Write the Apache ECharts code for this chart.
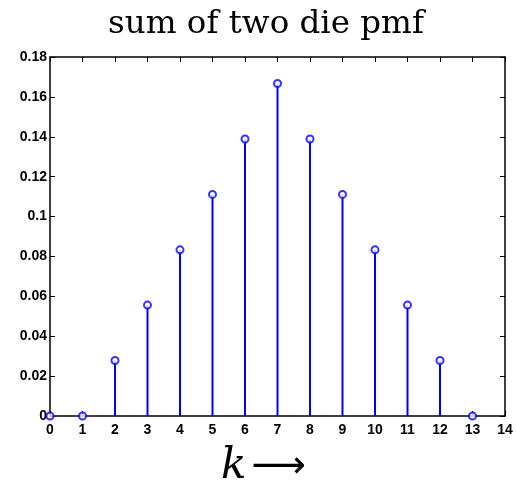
<!DOCTYPE html>
<html>
<head>
<meta charset="utf-8">
<script src="https://cdn.jsdelivr.net/npm/echarts@6/dist/echarts.min.js"></script>
<style>
  html, body { margin: 0; padding: 0; background: #fff; }
  #chart { width: 516px; height: 487px; }
</style>
</head>
<body>
<div id="chart"></div>
<script>
// k values and pmf of the sum of two dice
const kValues = [0, 1, 2, 3, 4, 5, 6, 7, 8, 9, 10, 11, 12, 13];
const pmf = [0, 0, 0.0278, 0.0556, 0.0833, 0.1111, 0.1389, 0.1667, 0.1389, 0.1111, 0.0833, 0.0556, 0.0278, 0];

const chart = echarts.init(document.getElementById("chart"));

const points = kValues.map((k, i) => [k, pmf[i]]);
const tickFont = { color: "#000", fontWeight: "bold", fontSize: 14, fontFamily: "Liberation Sans, Arial, sans-serif" };
const frameLine = { show: true, onZero: false, lineStyle: { color: "#000", width: 1.5 } };
const innerTick = { show: true, inside: true, length: 5, lineStyle: { color: "#000" } };

chart.setOption({
  animation: false,
  title: {
    text: "sum of two die pmf",
    left: 261,
    textAlign: "center",
    top: 3,
    textStyle: { fontFamily: "DejaVu Serif, serif", fontWeight: "normal", fontSize: 32.5, color: "#000" },
  },
  grid: { left: 50, right: 11, top: 57, bottom: 71, outerBoundsMode: "none", containLabel: false },
  xAxis: [
    {
      type: "value", min: 0, max: 14, interval: 1,
      axisLine: frameLine,
      axisTick: innerTick,
      axisLabel: Object.assign({ margin: 7 }, tickFont),
      splitLine: { show: false },
    },
    {
      type: "value", min: 0, max: 14, interval: 1, position: "top",
      axisLine: frameLine,
      axisTick: innerTick,
      axisLabel: { show: false },
      splitLine: { show: false },
    },
  ],
  yAxis: [
    {
      type: "value", min: 0, max: 0.18, interval: 0.02,
      axisLine: frameLine,
      axisTick: innerTick,
      axisLabel: Object.assign({ margin: 3 }, tickFont),
      splitLine: { show: false },
    },
    {
      type: "value", min: 0, max: 0.18, interval: 0.02, position: "right",
      axisLine: frameLine,
      axisTick: innerTick,
      axisLabel: { show: false },
      splitLine: { show: false },
    },
  ],
  graphic: [
    {
      type: "text",
      left: 221,
      top: 446,
      style: {
        text: "{k|k}{a|⟶}",
        rich: {
          k: { fontFamily: "DejaVu Serif, serif", fontStyle: "italic", fontSize: 42, fill: "#000" },
          a: { fontFamily: "DejaVu Sans, sans-serif", fontSize: 38, fill: "#000", padding: [0, 0, 0, 5] },
        },
      },
    },
  ],
  series: [
    {
      type: "bar",
      data: points,
      barWidth: 2,
      itemStyle: { color: "#0000ff" },
      silent: true,
    },
    {
      type: "scatter",
      data: points,
      symbol: "emptyCircle",
      symbolSize: 7,
      itemStyle: { color: "#0000ff", borderColor: "#0000ff", borderWidth: 1.8 },
      z: 5,
    },
  ],
});
</script>
</body>
</html>
